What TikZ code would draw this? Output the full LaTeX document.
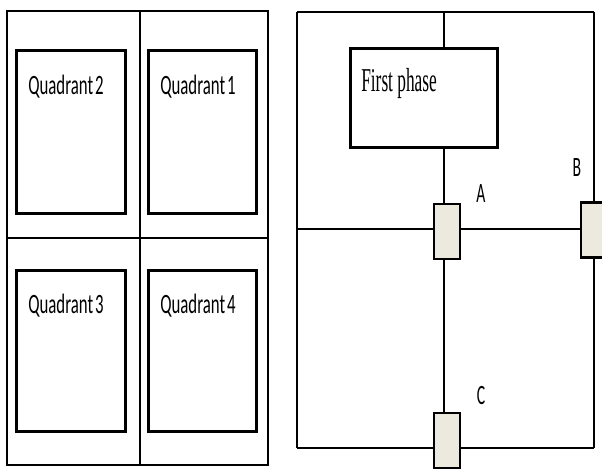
\documentclass[tikz,border=0pt]{standalone}
\usepackage{fontspec}
\usepackage{graphicx}
\newfontfamily\calfont{Carlito}
\newfontfamily\serfont{Liberation Serif}
\definecolor{boxfill}{RGB}{236,233,222}
\tikzset{
  panelline/.style={line width=1.8pt, black},
  thinline/.style={line width=1.4pt, black},
  qbox/.style={draw, line width=2.1pt, inner sep=0pt, minimum width=#1},
  smallbox/.style={draw, fill=boxfill, line width=1.8pt, inner sep=0pt, minimum width=19.5pt, minimum height=41pt},
  qtext/.style={anchor=base west, inner sep=0pt, font=\calfont\fontsize{21}{22}\selectfont},
  lbl/.style={anchor=base, inner sep=0pt, font=\calfont\fontsize{21}{22}\selectfont},
  ftext/.style={anchor=base west, inner sep=0pt, font=\serfont\fontsize{25}{26}\selectfont}
}
\begin{document}
\begin{tikzpicture}[x=0.75pt, y=-0.75pt]
\useasboundingbox (0,0) rectangle (602,469);
% ---------- left panel ----------
\draw[panelline] (7,11) rectangle (268,465);
\draw[thinline] (140,11) -- (140,465);
\draw[panelline] (7,238) -- (268,238);
\node[qbox=81.6pt, minimum height=122.4pt] (q2) at (71,132) {};
\node[qbox=80.9pt, minimum height=122.4pt] (q1) at (202.5,132) {};
\node[qbox=81.6pt, minimum height=120.9pt] (q3) at (71,351) {};
\node[qbox=80.9pt, minimum height=120.9pt] (q4) at (202.5,351) {};
\node[qtext] (t2) at (28,94) {\scalebox{0.6}[1]{Quadrant\hspace{0.12em}2}};
\node[qtext] (t1) at (160,94) {\scalebox{0.6}[1]{Quadrant\hspace{0.12em}1}};
\node[qtext] (t3) at (28,313) {\scalebox{0.6}[1]{Quadrant\hspace{0.12em}3}};
\node[qtext] (t4) at (160,313) {\scalebox{0.6}[1]{Quadrant\hspace{0.12em}4}};
% ---------- right panel ----------
\coordinate (tl) at (297,12);
\coordinate (tr) at (594,12);
\coordinate (bl) at (297,448);
\coordinate (br) at (594,448);
\coordinate (ml) at (297,229);
\coordinate (vtop) at (444,12);
\node[qbox=110.4pt, minimum height=74.4pt, fill=white] (fp) at (424,98) {};
\node[ftext] (fpt) at (361,91) {\scalebox{0.52}[1]{First phase}};
\node[smallbox] (A) at (447,231.5) {};
\node[smallbox] (B) at (594,230) {};
\node[smallbox] (C) at (447,440.5) {};
\draw[panelline] (tl) -- (tr);
\draw[panelline] (tl) -- (bl);
\draw[panelline] (vtop) -- (vtop |- fp.north);
\draw[panelline] (fp.south -| vtop) -- (A.north -| vtop);
\draw[panelline] (A.south -| vtop) -- (C.north -| vtop);
\draw[panelline] (ml) -- (A.west |- ml);
\draw[panelline] (A.east |- ml) -- (B.west |- ml);
\draw[panelline] (tr) -- (B.north);
\draw[panelline] (B.south) -- (br);
\draw[panelline] (bl) -- (C.west |- bl);
\draw[panelline] (C.east |- br) -- (br);
\node[lbl] (la) at (481,202) {\scalebox{0.56}[1]{A}};
\node[lbl] (lb) at (577,176) {\scalebox{0.56}[1]{B}};
\node[lbl] (lc) at (481,404) {\scalebox{0.56}[1]{C}};
\end{tikzpicture}
\end{document}
